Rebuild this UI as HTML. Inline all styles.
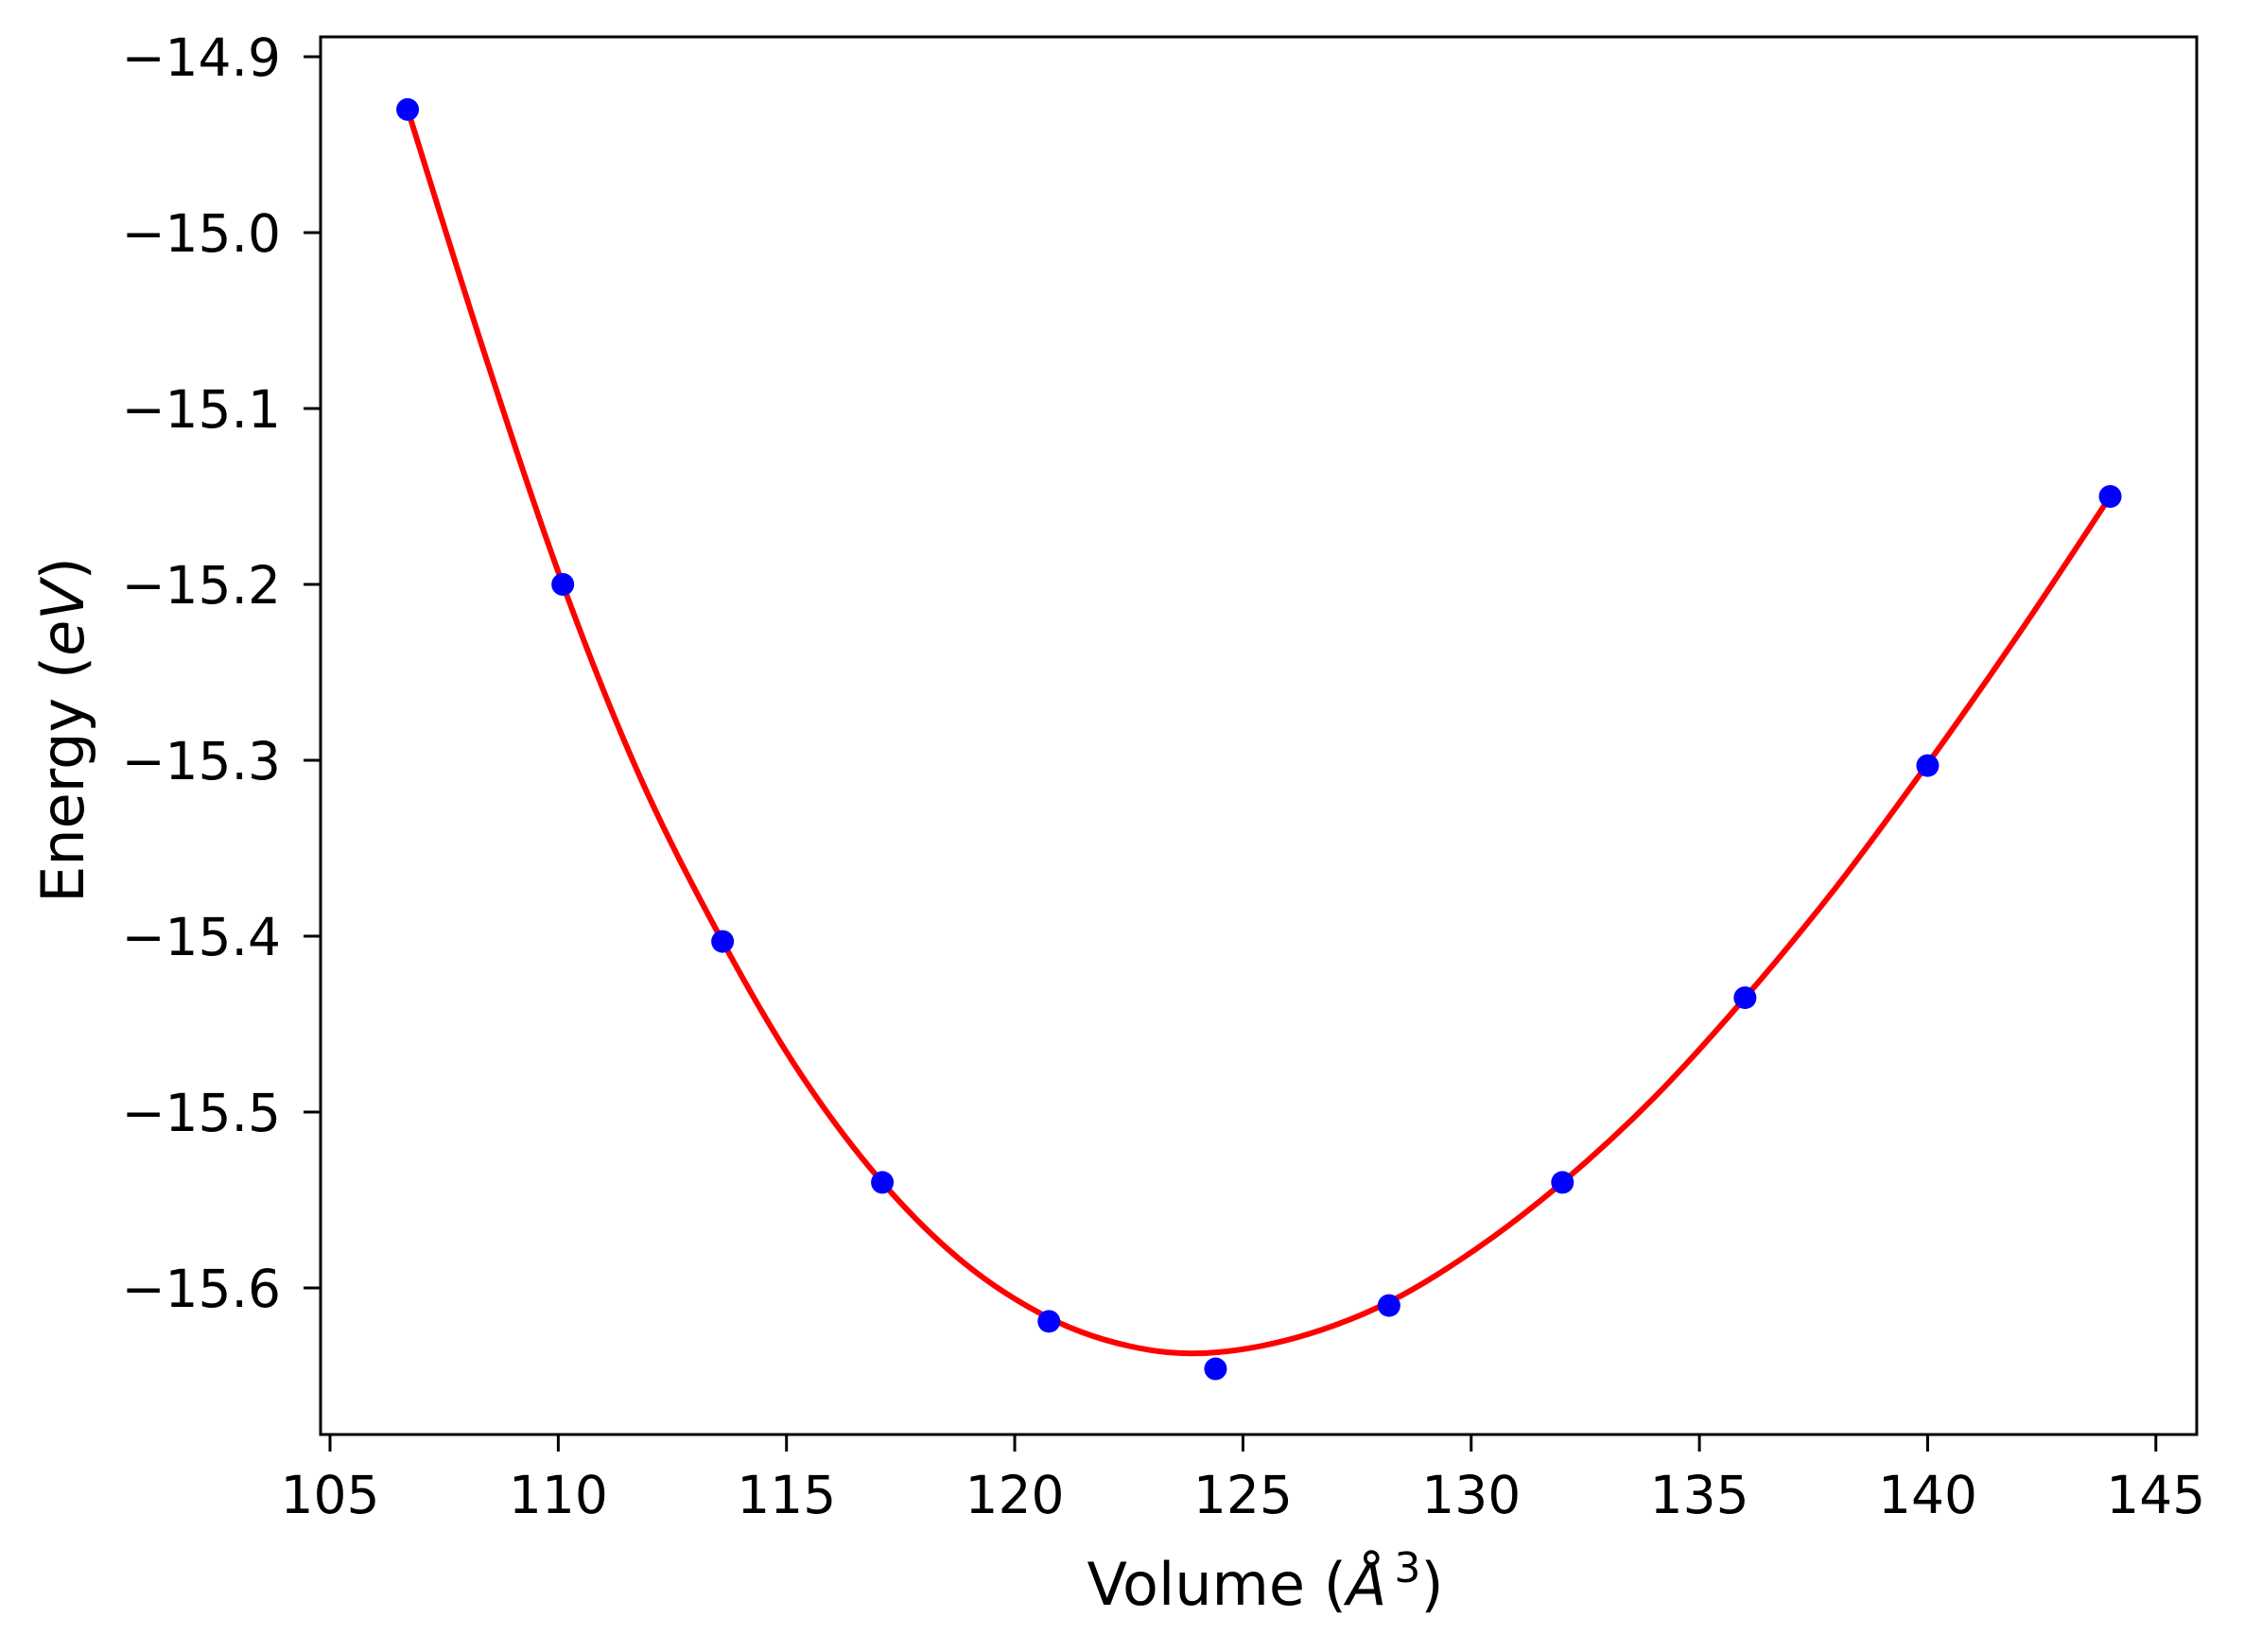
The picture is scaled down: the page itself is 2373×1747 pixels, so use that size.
<!DOCTYPE html>
<html><head><meta charset="utf-8"><style>
body{margin:0;background:#fff}
svg{display:block;font-family:"DejaVu Sans","Liberation Sans",sans-serif}
</style></head><body>
<svg id="chart" width="2373" height="1747" viewBox="0 0 2373 1747" xmlns="http://www.w3.org/2000/svg">
<rect width="2373" height="1747" fill="#fff"/>
<g id="marks"></g>
<rect x="339" y="39" width="1984" height="1478" fill="none" stroke="#000" stroke-width="3"/>
<g id="axes"></g>
<text x="1338" y="1697" font-size="62" text-anchor="middle">Volume (<tspan font-style="italic">Å</tspan><tspan font-size="44" dx="8" dy="-24">3</tspan><tspan dy="24">)</tspan></text>
<text transform="translate(88,772) rotate(-90)" font-size="62" text-anchor="middle">Energy (<tspan font-style="italic">eV</tspan>)</text>
</svg>
<script>
const volumes=[106.7,110.1,113.6,117.1,120.75,124.4,128.2,132.0,136.0,140.0,144.0];
const energies=[-14.93,-15.2,-15.403,-15.54,-15.619,-15.646,-15.61,-15.54,-15.435,-15.303,-15.15];
const fitVolumes=[106.7,108.4,110.1,111.8,113.6,115.3,117.1,118.9,120.75,122.5,124.2,126.2,128.2,130.1,132,134,136,138,140,142,144];
const fitEnergies=[-14.93,-15.07,-15.2,-15.31,-15.403,-15.478,-15.54,-15.586,-15.617,-15.633,-15.637,-15.628,-15.608,-15.578,-15.54,-15.492,-15.435,-15.372,-15.302,-15.228,-15.15];
const xTicks=[105,110,115,120,125,130,135,140,145];
const yTicks=[-14.9,-15.0,-15.1,-15.2,-15.3,-15.4,-15.5,-15.6];
const yTickLabels=["−14.9","−15.0","−15.1","−15.2","−15.3","−15.4","−15.5","−15.6"];

const NS="http://www.w3.org/2000/svg";
function sx(v){return 349+(v-105)*48.27;}
function sy(v){return 60+(-14.9-v)*1860;}
const marks=document.getElementById('marks'),axes=document.getElementById('axes');
function mk(tag,attrs,parent){const e=document.createElementNS(NS,tag);for(const k in attrs)e.setAttribute(k,attrs[k]);parent.appendChild(e);return e;}

const P=fitVolumes.map((v,i)=>[sx(v),sy(fitEnergies[i])]);
let d="M"+P[0][0]+","+P[0][1];
for(let i=0;i<P.length-1;i++){
  const p0=P[Math.max(0,i-1)],p1=P[i],p2=P[i+1],p3=P[Math.min(P.length-1,i+2)];
  const c1=[p1[0]+(p2[0]-p0[0])/6,p1[1]+(p2[1]-p0[1])/6];
  const c2=[p2[0]-(p3[0]-p1[0])/6,p2[1]-(p3[1]-p1[1])/6];
  d+=" C"+c1[0]+","+c1[1]+" "+c2[0]+","+c2[1]+" "+p2[0]+","+p2[1];
}
const curve=mk('path',{d:d,fill:'none',stroke:'#ff0000','stroke-width':6},marks);



volumes.forEach((v,i)=>{
  const c=mk('circle',{cx:sx(v),cy:sy(energies[i]),r:12,fill:'#0000ff'},marks);
  
  
});

xTicks.forEach(t=>{
  const l=mk('line',{x1:sx(t),x2:sx(t),y1:1517,y2:1535,stroke:'#000','stroke-width':3},axes);
  
  
  const tx=mk('text',{x:sx(t),y:1600,'font-size':55,'text-anchor':'middle'},axes);
  tx.textContent=String(t);
  
  
});
yTicks.forEach((t,i)=>{
  const l=mk('line',{x1:321,x2:339,y1:sy(t),y2:sy(t),stroke:'#000','stroke-width':3},axes);
  
  
  const tx=mk('text',{x:297,y:sy(t)+20,'font-size':55,'text-anchor':'end'},axes);
  tx.textContent=yTickLabels[i];
  
  
});
</script>
</body></html>
